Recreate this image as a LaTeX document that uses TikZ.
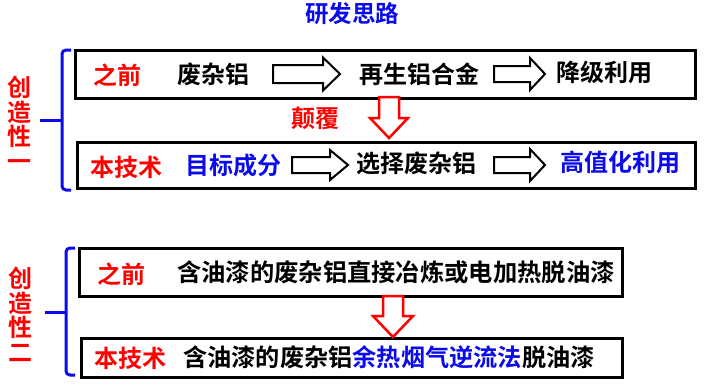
\documentclass[tikz,border=0pt]{standalone}
\usepackage{fontspec}
\setmainfont{Noto Sans CJK SC}[BoldFont=* Bold]
\definecolor{myblue}{RGB}{10,10,235}
\definecolor{myred}{RGB}{255,0,0}
\begin{document}
\begin{tikzpicture}[x=1pt,y=-1pt,
  txt/.style={font=\bfseries\fontsize{24}{24}\selectfont, inner sep=0pt},
  vtxt/.style={font=\bfseries\fontsize{24}{24.5}\selectfont, inner sep=0pt, align=center, text=myred},
  frame/.style={draw=black, line width=3pt, fill=white, inner sep=0pt},
  harrow/.style={draw=black, line width=2pt, fill=white, line join=miter},
  rarrow/.style={draw=myred, line width=2.5pt, fill=white, line join=miter},
  brace/.style={draw=myblue, line width=3pt, rounded corners=4pt}
]
\useasboundingbox (0,0) rectangle (707,391);
\fill[white] (0,0) rectangle (707,391);

% title
\node[txt, text=myblue, font=\bfseries\fontsize{23.5}{23.5}\selectfont] (title) at (352,14) {研发思路};

% ---------- part one ----------
\node[frame, minimum width=620pt, minimum height=48pt] (b1) at (385,74) {};
\node[frame, minimum width=618pt, minimum height=46pt] (b2) at (386,165) {};

\node[vtxt] (c1) at (19,123.5) {创\\造\\性\\一};
\coordinate (br1t) at (71,50);
\coordinate (br1b) at (71,190);
\coordinate (br1m) at (40,120);
\draw[brace] (br1t) -| (62,120) |- (br1b);
\draw[brace] (62,120) -- (br1m);

\node[txt, text=myred] (q1) at (117,75) {之前};
\node[txt] (t1) at (213,74) {废杂铝};
\node[txt] (t2) at (419,74) {再生铝合金};
\node[txt] (t3) at (604,72) {降级利用};

\node[txt, text=myred] (n1) at (126,167) {本技术};
\node[txt, text=myblue] (u1) at (233,165) {目标成分};
\node[txt] (u2) at (416,163) {选择废杂铝};
\node[txt, text=myblue] (u3) at (620,162) {高值化利用};

\node[txt, text=myred] (dianfu) at (315,118) {颠覆};

% hollow arrows, box 1
\coordinate (a1) at (273,74);
\draw[harrow] (a1) ++(0,-9) -- ++(50,0) -- ++(0,-7.5) -- (340,74) -- (323,90.5) -- ++(0,-7.5) -- ++(-50,0) -- cycle;
\coordinate (a2) at (494,74);
\draw[harrow] (a2) ++(0,-8) -- ++(36,0) -- ++(0,-8) -- (545,74) -- (530,90) -- ++(0,-8) -- ++(-36,0) -- cycle;
% hollow arrows, box 2
\coordinate (a3) at (292,165);
\draw[harrow] (a3) ++(0,-8) -- ++(38,0) -- ++(0,-7) -- (348,165) -- (330,180) -- ++(0,-7) -- ++(-38,0) -- cycle;
\coordinate (a4) at (494,165);
\draw[harrow] (a4) ++(0,-8) -- ++(36,0) -- ++(0,-8) -- (545,165) -- (530,181) -- ++(0,-8) -- ++(-36,0) -- cycle;

% red down arrow 1
\coordinate (r1) at (389,97);
\draw[rarrow] (r1) ++(-10,0) -- ++(0,21) -- ++(-9,0) -- (389,138) -- (408,118) -- ++(-9,0) -- ++(0,-21) -- cycle;

% ---------- part two ----------
\node[frame, minimum width=543pt, minimum height=48pt] (b3) at (350.5,272) {};
\node[frame, minimum width=541pt, minimum height=39pt] (b4) at (351.5,357.5) {};

\node[vtxt] (c2) at (21,314.5) {创\\造\\性\\二};
\coordinate (br2t) at (75,248);
\coordinate (br2b) at (75,375);
\coordinate (br2m) at (45,312);
\draw[brace] (br2t) -| (66,312) |- (br2b);
\draw[brace] (66,312) -- (br2m);

\node[txt, text=myred] (q2) at (121,274) {之前};
\node[txt, anchor=west, font=\bfseries\fontsize{24.3}{24.3}\selectfont] (s1) at (177,272) {含油漆的废杂铝直接冶炼或电加热脱油漆};

\node[txt, text=myred] (n2) at (130,358) {本技术};
\node[txt, anchor=west, font=\bfseries\fontsize{24.2}{24.2}\selectfont] (s2) at (183,357) {含油漆的废杂铝\textcolor{myblue}{余热烟气逆流法}脱油漆};

% red down arrow 2
\coordinate (r2) at (393,296);
\draw[rarrow] (r2) ++(-10,0) -- ++(0,20) -- ++(-10,0) -- (393,337) -- (413,316) -- ++(-10,0) -- ++(0,-20) -- cycle;
\end{tikzpicture}
\end{document}
